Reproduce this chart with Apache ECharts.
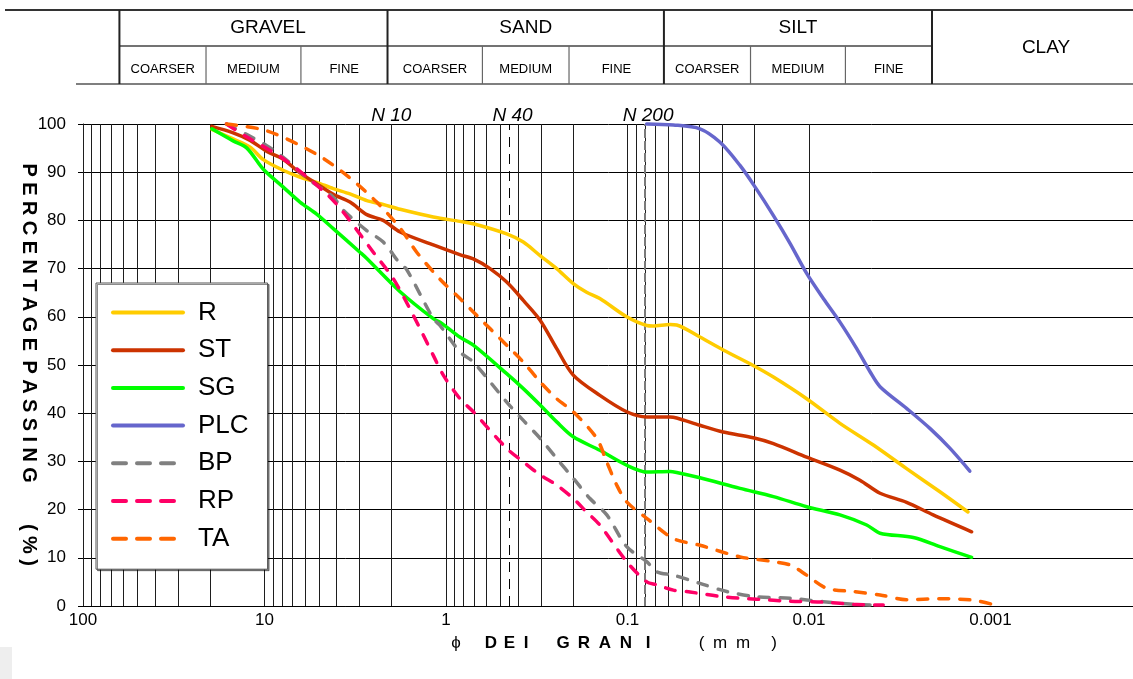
<!DOCTYPE html>
<html>
<head>
<meta charset="utf-8">
<script src="https://cdn.jsdelivr.net/npm/echarts@6/dist/echarts.min.js"></script>
<style>html,body{margin:0;padding:0;background:#fff}#c{width:1133px;height:679px}</style>
</head>
<body>
<div id="c"></div>
<script>
// ---------------- DATA ----------------
const seriesNames = ['R', 'ST', 'SG', 'PLC', 'BP', 'RP', 'TA'];
// [grain diameter (mm), percentage passing]
const R = [[19.5,98.9],[14.9,96.9],[12.0,95.2],[10.15,92.6],[7.9,90.4],[6.4,89.0],[5.16,87.9],[4.18,86.6],[3.38,85.5],[2.73,84.1],[2.22,83.3],[1.79,82.3],[1.175,80.7],[0.84,79.8],[0.707,79.3],[0.463,77.2],[0.375,75.5],[0.303,72.7],[0.2455,70.0],[0.199,66.9],[0.168,65.1],[0.142,63.8],[0.101,60.0],[0.0784,58.2],[0.0724,58.1],[0.0583,58.4],[0.0536,58.3],[0.0399,55.8],[0.0297,53.1],[0.0203,49.9],[0.0157,47.5],[0.0103,43.0],[0.00675,37.9],[0.00442,33.4],[0.0029,28.5],[0.0019,23.7],[0.00133,19.5]];
const ST = [[19.5,99.5],[15,98.2],[12,96.6],[9.7,94.3],[7.9,92.7],[6.4,89.9],[5.16,87.6],[4.18,85.4],[3.38,83.8],[2.73,81.2],[2.22,80.0],[1.79,77.6],[1.175,74.9],[0.84,72.9],[0.707,72.0],[0.572,70.0],[0.463,67.2],[0.375,63.4],[0.303,59.3],[0.2455,53.4],[0.199,47.9],[0.142,43.7],[0.101,40.3],[0.0784,39.2],[0.0583,39.2],[0.0536,39.0],[0.0399,37.5],[0.0297,36.1],[0.0203,34.9],[0.0157,33.7],[0.0103,30.9],[0.00675,28.2],[0.00524,26.1],[0.00406,23.4],[0.0029,21.5],[0.00207,18.9],[0.00127,15.4]];
const SG = [[19.5,99.0],[14.9,96.5],[12.5,95.0],[10.15,90.6],[7.88,86.9],[6.375,83.8],[5.16,81.3],[4.18,78.3],[2.98,73.4],[2.73,72.1],[1.79,65.2],[1.175,59.6],[1.079,58.9],[0.84,55.8],[0.707,54.1],[0.463,48.2],[0.375,45.1],[0.303,41.7],[0.2455,38.2],[0.199,35.1],[0.142,32.3],[0.101,29.2],[0.0784,27.8],[0.0583,27.9],[0.0536,27.7],[0.0399,26.6],[0.024,24.4],[0.0157,22.7],[0.0103,20.6],[0.00675,18.9],[0.00481,16.8],[0.00406,15.1],[0.00266,14.2],[0.0019,12.3],[0.00127,10.1]];
const PLC = [[0.0784,100],[0.0559,99.8],[0.0399,99.0],[0.0309,96.2],[0.024,91.4],[0.0198,86.9],[0.0157,81.0],[0.0127,75.2],[0.0103,69.0],[0.00834,63.8],[0.00675,58.9],[0.00546,53.4],[0.00461,48.6],[0.00406,45.5],[0.0029,41.0],[0.00215,36.8],[0.00167,32.7],[0.0013,28.0]];
const BP = [[16.2,100],[12.5,97.8],[9.72,95.5],[7.88,93.1],[5.615,88.3],[4.177,84.8],[3.68,82.1],[2.734,77.9],[2.216,75.5],[1.79,71.0],[1.646,69.8],[1.175,59.6],[1.079,58.2],[0.8375,52.7],[0.707,50.6],[0.463,42.3],[0.375,38.5],[0.303,34.8],[0.2455,30.6],[0.199,26.5],[0.161,22.3],[0.130,18.9],[0.101,12.3],[0.0784,9.2],[0.069,7.1],[0.0559,6.4],[0.0399,4.7],[0.0284,3.0],[0.0194,1.9],[0.0127,1.6],[0.00834,0.9],[0.00546,0.3],[0.00461,0.2]];
const RP = [[16.2,100],[12.5,97.3],[7.88,92.8],[4.543,85.5],[3.68,81.7],[2.515,73.4],[1.951,67.9],[1.514,60.3],[1.175,52.0],[1.035,47.9],[0.8375,43.0],[0.707,40.3],[0.463,32.7],[0.375,29.9],[0.303,27.2],[0.2455,25.1],[0.199,22.3],[0.168,19.5],[0.142,16.8],[0.101,9.2],[0.0784,5.0],[0.069,4.4],[0.0559,3.3],[0.0452,2.9],[0.0297,1.9],[0.0194,1.4],[0.0127,1.0],[0.00834,0.8],[0.00546,0.3],[0.0039,0.2]];
const TA = [[16.2,100],[9.72,98.6],[5.157,93.7],[3.381,88.8],[2.409,83.8],[1.79,78.4],[1.45,73.4],[1.079,67.8],[0.8375,63.8],[0.707,61.0],[0.463,54.1],[0.375,50.6],[0.303,46.5],[0.2455,43.0],[0.199,40.3],[0.1478,34.8],[0.1302,29.9],[0.1147,25.1],[0.101,21.6],[0.0784,18.2],[0.0559,14.0],[0.0399,12.6],[0.024,10.2],[0.0157,9.2],[0.0127,8.5],[0.0103,6.4],[0.008,3.7],[0.0057,3.0],[0.00406,2.3],[0.0029,1.3],[0.0019,1.5],[0.00124,1.2],[0.000924,0.1]];

const xTickLabels = ['100', '10', '1', '0.1', '0.01', '0.001'];
const mainClasses = ['GRAVEL', 'SAND', 'SILT', 'CLAY'];
const subClasses = ['COARSER', 'MEDIUM', 'FINE'];
const classBounds = [63, 21, 6.3, 2.1, 0.63, 0.21, 0.063, 0.021, 0.0063, 0.0021]; // mm
const sieveNames = ['N 10', 'N 40', 'N 200'];
const sieveLabelAt = [2, 0.43, 0.077];   // mm
const sieveLineAt = [0.454, 0.078];      // mm (N 40, N 200 dashed lines)
const yTitle = ['PERCENTAGE', 'PASSING', '(%)'];
const xTitle = [['\u03D5','n'],['D','b'],['E','b'],['I','b'],['G','b'],['R','b'],['A','b'],['N','b'],['I','b'],['(','n'],['m','n'],['m','n'],[')','n']];

// ---------------- STYLE ----------------
const FONT = "'Liberation Sans', Arial, Helvetica, sans-serif";
const seriesStyle = {
  R:   {color: '#FFCC00', type: 'solid'},
  ST:  {color: '#CC3300', type: 'solid'},
  SG:  {color: '#00FF00', type: 'solid'},
  PLC: {color: '#6666CC', type: 'solid'},
  BP:  {color: '#808080', type: [10, 11]},
  RP:  {color: '#FF0066', type: [10, 11]},
  TA:  {color: '#FF6600', type: [10, 11]}
};
const seriesData = {R, ST, SG, PLC, BP, RP, TA};

// vertical log grid lines (1..9 x 10^k)
const vGrid = [];
for (let k = -4; k <= 1; k++) for (let m = 1; m <= 9; m++) vGrid.push(m * Math.pow(10, k));
vGrid.push(100);

const chart = echarts.init(document.getElementById('c'), null, {renderer: 'canvas', width: 1133, height: 679});

const markData = vGrid.map(v => ({xAxis: v, lineStyle: {color: '#1e1e1e', width: 1, type: 'solid'}}));
markData.push({xAxis: sieveLineAt[0], lineStyle: {color: '#000', width: 1, type: [10, 7]}});
markData.push({xAxis: sieveLineAt[1], lineStyle: {color: '#7a7a7a', width: 2, type: [9, 3]}});

const series = [{
  name: '_grid', type: 'line', data: [], silent: true, z: 1, animation: false,
  markLine: {
    silent: true, z: 1, animation: false, symbol: ['none', 'none'],
    label: {show: false}, emphasis: {disabled: true},
    data: markData
  }
}];
seriesNames.forEach(n => {
  const s = seriesStyle[n];
  series.push({
    name: n, type: 'line', data: seriesData[n], symbol: 'none', showSymbol: false,
    smooth: 0.3, clip: false, z: 3, animation: false,
    lineStyle: {color: s.color, width: 3.5, type: s.type, cap: 'round', join: 'round'},
    itemStyle: {color: s.color},
    emphasis: {disabled: true}
  });
});

const legendItems = seriesNames.map(n => seriesStyle[n].type === 'solid'
  ? {name: n}
  : {name: n, lineStyle: {type: [13, 11]}});

chart.setOption({
  animation: false,
  backgroundColor: '#fff',
  textStyle: {fontFamily: FONT},
  grid: {left: 83, top: 124, width: 1089, height: 482, outerBoundsMode: 'none', containLabel: false},
  xAxis: {
    type: 'log', logBase: 10, min: 0.0001, max: 100, inverse: true,
    axisLine: {show: true, lineStyle: {color: '#000', width: 1}},
    axisTick: {show: false},
    splitLine: {show: false},
    minorTick: {show: false},
    axisLabel: {
      show: true, margin: 6, color: '#000', fontSize: 17, fontFamily: FONT,
      formatter: v => { const k = Math.round(Math.log10(v)); const i = 2 - k; return (i >= 0 && i < xTickLabels.length) ? xTickLabels[i] : ''; }
    }
  },
  yAxis: {
    type: 'value', min: 0, max: 100, interval: 10,
    axisLine: {show: true, lineStyle: {color: '#000', width: 1}},
    axisTick: {show: true, length: 5, inside: false, lineStyle: {color: '#000'}},
    splitLine: {show: true, lineStyle: {color: '#000', width: 1}},
    axisLabel: {show: true, margin: 17, color: '#000', fontSize: 17, fontFamily: FONT}
  },
  legend: {
    data: legendItems, orient: 'vertical', left: 96, top: 283,
    itemWidth: 70, itemHeight: 14, itemGap: 11.7,
    padding: [16.5, 19, 17.5, 15],
    backgroundColor: '#fff', borderColor: '#555', borderWidth: 1,
    shadowColor: 'rgba(0,0,0,0.45)', shadowOffsetX: 1.5, shadowOffsetY: 1.5, shadowBlur: 0,
    selectedMode: false, z: 10,
    itemStyle: {opacity: 0, borderWidth: 0},
    lineStyle: {width: 4, cap: 'round'},
    textStyle: {fontSize: 26, color: '#000', fontFamily: FONT, lineHeight: 25, padding: [0, 0, 0, 10]}
  },
  series: series
});

// ---------------- decorations (table header, titles) ----------------
const px = v => chart.convertToPixel({xAxisIndex: 0}, v);
const B = classBounds.map(px);
const g = [];
const ln = (x1, y1, x2, y2, w, c) => ({type: 'line', silent: true, z: 20, shape: {x1, y1, x2, y2}, style: {stroke: c, lineWidth: w}});
const tx = (x, y, text, font, extra) => Object.assign({type: 'text', silent: true, z: 20, x, y,
  style: {text, font, fill: '#000', align: 'center', verticalAlign: 'middle'}}, extra || {});

g.push(ln(5, 10, 1133, 10, 2, '#333'));
g.push(ln(B[0], 46, B[9], 46, 1.5, '#444'));
g.push(ln(76, 84, 1133, 84, 1.5, '#555'));
[0, 3, 6, 9].forEach(i => g.push(ln(B[i], 10, B[i], 84, 2, '#222')));
[1, 2, 4, 5, 7, 8].forEach(i => g.push(ln(B[i], 46, B[i], 84, 1.2, '#666')));
const mainX = [268, (B[3] + B[6]) / 2, (B[6] + B[9]) / 2, 1046];
mainClasses.forEach((t, i) => g.push(tx(mainX[i], i === 3 ? 48 : 28, t, '19px ' + FONT)));
for (let k = 0; k < 3; k++) for (let i = 0; i < 3; i++) {
  const a = B[3 * k + i], b = B[3 * k + i + 1];
  g.push(tx((a + b) / 2, 69, subClasses[i], '13px ' + FONT));
}
sieveNames.forEach((t, i) => g.push(tx(px(sieveLabelAt[i]), 115.5, t, 'italic 19px ' + FONT)));

// y-axis title, one glyph at a time (letter spaced, rotated clockwise)
const ctx = document.createElement('canvas').getContext('2d');
const yFont = 'bold 20px ' + FONT;
ctx.font = yFont;
const yStarts = [163.5, 360.5, 524];
yTitle.forEach((word, wi) => {
  let pos = yStarts[wi];
  for (const ch of word) {
    const w = ctx.measureText(ch).width;
    g.push(tx(29, pos + w / 2, ch, yFont, {rotation: -Math.PI / 2}));
    pos += w + 5.4;
  }
});
// x-axis title glyphs
const xCenters = [456, 491, 509.5, 526, 563, 584, 605, 626, 648, 701.5, 720, 743, 774];
xTitle.forEach((c, i) => g.push(tx(xCenters[i], 643, c[0], (c[1] === 'b' ? 'bold 17px ' : '17px ') + FONT)));
g.push({type: 'rect', silent: true, z: 20, shape: {x: 0, y: 647, width: 12, height: 32}, style: {fill: '#eeeeee'}});

chart.setOption({graphic: g});
</script>
</body>
</html>
